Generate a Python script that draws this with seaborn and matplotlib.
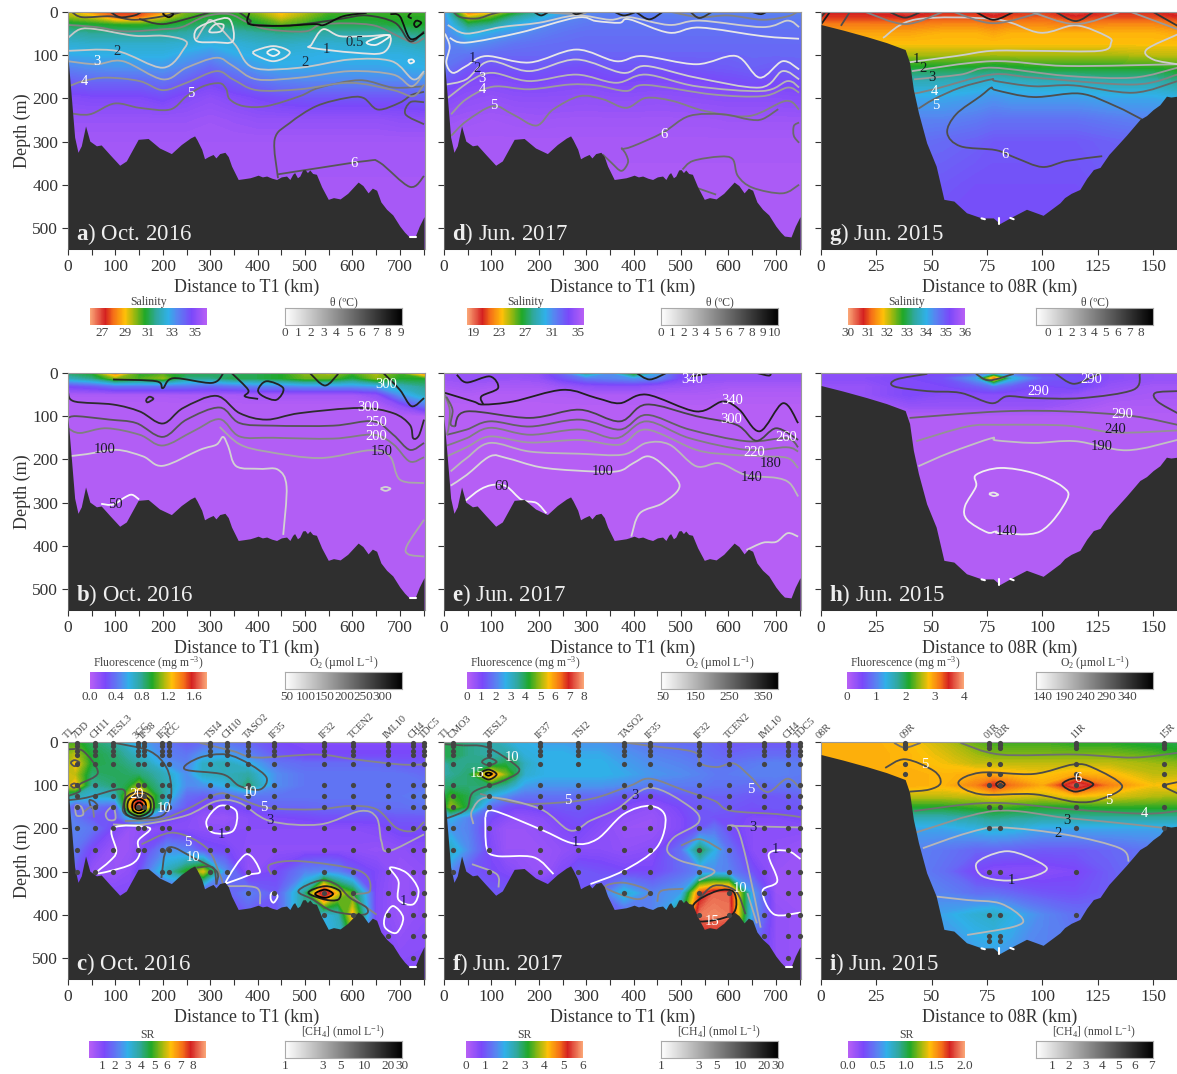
import numpy as np
import matplotlib
matplotlib.use('Agg')
import matplotlib.pyplot as plt
from matplotlib.colors import LinearSegmentedColormap, Normalize, LogNorm
from matplotlib.patches import PathPatch
from matplotlib.path import Path
import seaborn as sns

# grids the colour fields are read on
x_long = [0, 50, 100, 150, 200, 250, 300, 350, 400, 450, 500, 550, 600, 650, 700, 752]
z_long = [0, 12, 30, 50, 75, 100, 130, 160, 200, 250, 300, 400, 550]
x_sr = [0, 15, 50, 100, 130, 150, 170, 210, 250, 285, 330, 380, 440, 500, 540, 570, 600, 650, 700, 752]
z_sr = [0, 30, 50, 75, 100, 125, 150, 175, 200, 250, 300, 350, 400, 550]
x_short = [0, 20, 40, 55, 70, 78, 86, 100, 115, 130, 150, 161]

# seabed
bed_long_x = [0, 8, 14, 21, 28, 37, 46, 60, 70, 88, 109, 123, 148, 169, 193, 218, 239, 258, 267, 272, 282, 288, 296, 306, 312, 320, 331, 338, 345, 359,
              372, 384, 393, 401, 410, 419, 430, 440, 450, 461, 468, 474, 478, 484, 489, 495, 500, 505, 510, 516, 524, 535, 549, 560, 574, 590, 612,
              622, 633, 642, 651, 660, 672, 685, 700, 710, 718, 732, 741, 751]
bed_long_z = [105, 210, 290, 325, 310, 264, 299, 310, 308, 330, 355, 345, 295, 293, 315, 328, 307, 292, 287, 296, 318, 340, 335, 330, 338, 328, 325, 335, 357, 388,
              386, 384, 381, 378, 382, 380, 385, 388, 382, 380, 388, 376, 372, 384, 380, 366, 365, 372, 366, 374, 376, 405, 434, 430, 433, 420, 394,
              402, 419, 408, 413, 440, 457, 470, 496, 510, 519, 521, 496, 474]
bed_short_x = [0, 10, 20.6, 29.6, 38, 40, 41.7, 44, 47.7, 52, 55.5, 60, 65.7, 72.5, 77.8, 80.8, 86.8, 92.8, 100.3, 107.9, 110, 113, 116.9, 120, 123, 126, 130, 133.4, 138, 144, 147, 150, 153, 156, 158, 161]
bed_short_z = [29, 42, 57, 71, 87, 117, 179, 233, 303, 357, 434, 438, 465, 477, 477, 490, 473, 457, 471, 442, 430, 420, 411, 385, 365, 360, 330, 311, 285, 249, 240, 226, 215, 195, 197, 195]
# small unfilled gaps at the very bottom of the sections
gaps_long = [[(722, 521), (735, 521)]]
gaps_short = [[(72.5, 478), (74, 480)], [(80.5, 478), (80.5, 491)], [(85.5, 477), (87, 480)]]

# salinity
sal_a = [[29.3, 28.3, 27.4, 27.4, 28.3, 30, 30.5, 30.5, 29.7, 28.8, 29.5, 30.3, 30.5, 30.5, 30.5, 30.5],
         [29.8, 29.3, 27.9, 27.9, 29.3, 30.3, 30.8, 30.8, 30.2, 29.2, 29.9, 30.6, 30.6, 30.6, 30.6, 30.6],
         [31, 30.8, 30.6, 30.5, 30.7, 31, 31.4, 31.2, 30.8, 30.2, 30.5, 31, 31, 31, 30.8, 30.7],
         [31.8, 31.6, 31.6, 31.6, 31.6, 31.8, 32.1, 31.9, 31.7, 31.5, 31.6, 31.8, 31.8, 31.8, 31.6, 31.3],
         [32.4, 32.3, 32.3, 32.3, 32.3, 32.4, 32.6, 32.5, 32.3, 32.2, 32.3, 32.4, 32.3, 32.3, 32.2, 32],
         [32.8, 32.7, 32.7, 32.6, 32.6, 32.9, 33.2, 32.8, 32.6, 32.5, 32.6, 32.7, 32.6, 32.6, 32.6, 32.4],
         [33.5, 33.3, 33.2, 33.2, 33.1, 33.5, 34, 33.5, 33, 32.8, 32.8, 32.9, 32.9, 32.9, 32.8, 32.7],
         [34.2, 34, 34, 34, 33.8, 34.2, 34.6, 34.2, 33.8, 33.5, 33.4, 33.4, 33.4, 33.4, 33.4, 33.2],
         [34.9, 34.8, 34.8, 34.8, 34.6, 34.9, 35.1, 34.9, 34.7, 34.5, 34.4, 34.4, 34.4, 34.4, 34.4, 34.2],
         [35.3, 35.3, 35.3, 35.3, 35.3, 35.3, 35.4, 35.3, 35.2, 35.2, 35.2, 35.2, 35.2, 35.2, 35.1, 35.1],
         [35.5] * 16, [35.6] * 16, [35.6] * 16]
sal_d = [[31, 21, 23, 26, 28, 30, 31.5, 31.5, 31.5, 31.5, 31.5, 31, 31.5, 31.5, 31.5, 31.5],
         [31, 24, 25.5, 28, 29.5, 31, 31.5, 31.7, 31.7, 31.7, 31.7, 31.5, 31.7, 31.7, 31.7, 31.7],
         [31.3, 27.3, 28, 29.8, 31, 31.6, 31.9, 32, 32, 32, 32, 32, 32, 32, 32, 32],
         [31.5, 29.5, 30.3, 31, 31.6, 32, 32.2, 32.2, 32.2, 32.2, 32.2, 32.2, 32.2, 32.2, 32.2, 32.2],
         [31.6, 31, 31.5, 32, 32.2, 32.3, 32.4, 32.4, 32.4, 32.4, 32.4, 32.4, 32.4, 32.4, 32.4, 32.4],
         [31.8, 32, 32.4, 32.5, 32.5, 32.5, 32.6, 32.6, 32.6, 32.6, 32.6, 32.6, 32.6, 32.5, 32.5, 32.5],
         [32, 33, 33.3, 33.1, 33, 33.3, 33.4, 33.1, 33.1, 33.2, 33.2, 33, 32.9, 32.7, 32.9, 32.7],
         [32.8, 33.8, 34, 33.8, 33.6, 33.9, 34, 33.7, 33.7, 33.8, 33.8, 33.7, 33.5, 33.3, 33.5, 33.3],
         [34, 34.4, 34.6, 34.4, 34.4, 34.4, 34.5, 34.4, 34.4, 34.5, 34.4, 34.3, 34.2, 34.2, 34.2, 34.1],
         [34.8, 35, 35.1, 35, 34.9, 35, 35, 35, 35, 35, 35, 35, 34.9, 34.9, 34.9, 34.9],
         [35.2, 35.3, 35.3, 35.3, 35.3, 35.3, 35.3, 35.3, 35.3, 35.3, 35.3, 35.3, 35.3, 35.3, 35.3, 35.3],
         [35.5] * 16, [35.5] * 16]
sal_g = [[30.7, 30.7, 30.5, 30.8, 30.8, 30.5, 30.8, 30.9, 30.5, 30.8, 30.8, 30.6],
         [30.9, 30.9, 30.8, 31.0, 31.0, 30.8, 31.0, 31.1, 30.8, 31.0, 31.0, 30.8],
         [31.3, 31.3, 31.3, 31.4, 31.4, 31.3, 31.4, 31.4, 31.3, 31.4, 31.4, 31.3],
         [31.6, 31.6, 31.6, 31.7, 31.7, 31.6, 31.7, 31.7, 31.7, 31.7, 31.7, 31.6],
         [31.8, 31.8, 31.8, 31.8, 31.8, 31.8, 31.8, 31.8, 31.8, 31.8, 31.8, 31.8],
         [32.2, 32.2, 32.2, 32.2, 32.2, 32.2, 32.2, 32.2, 32.2, 32.2, 32.1, 32.1],
         [32.9, 32.9, 32.9, 32.9, 32.9, 33.0, 32.9, 32.8, 32.8, 32.8, 32.8, 32.7],
         [33.6, 33.6, 33.6, 33.6, 33.7, 33.8, 33.7, 33.6, 33.6, 33.5, 33.5, 33.3],
         [34.1, 34.1, 34.1, 34.1, 34.2, 34.3, 34.2, 34.2, 34.2, 34.1, 34.1, 34.0],
         [34.5, 34.5, 34.5, 34.5, 34.6, 34.7, 34.7, 34.7, 34.7, 34.6, 34.5, 34.5],
         [34.7, 34.7, 34.7, 34.8, 34.9, 35, 35, 35, 35, 34.9, 34.8, 34.8],
         [35, 35, 35, 35, 35.1, 35.1, 35.1, 35.1, 35.1, 35, 35, 35],
         [35.2] * 12]

# fluorescence
fluo_b = [[.85, .95, 1.4, .95, 1.0, .9, .9, .85, .9, .95, 1.1, 1.15, 1.0, 1.15, 1.0, 1.4],
          [.7, .8, 1.1, 1.0, 1.1, .8, .8, .9, .9, .95, 1.05, 1.05, .9, 1.1, .95, .95],
          [.25, .3, .4, .4, .4, .4, .35, .4, .45, .45, .5, .5, .5, .55, .7, .8],
          [.05, .05, .05, .05, .05, .06, .06, .06, .08, .08, .08, .08, .08, .15, .5, .7],
          [.02, .02, .02, .02, .02, .02, .02, .02, .02, .02, .02, .02, .02, .03, .15, .4],
          [.02] * 16, [.02] * 16, [.02] * 16, [.02] * 16, [.02] * 16, [.02] * 16, [.02] * 16, [.02] * 16]
fluo_e = [[.5, .6, .6, .6, .7, 1.5, 3.5, 2.2, 4.5, 2.5, 1, .7, .6, .6, .6, .6],
          [.5, .6, .6, .5, .6, 1.2, 1.8, 2, 2.2, 2, 1, .6, .6, .6, .6, .6],
          [.3, .4, .3, .3, .3, .5, .7, .8, .8, .6, .5, .4, .3, .3, .3, .3],
          [.1, .15, .1, .1, .1, .15, .2, .2, .2, .2, .2, .2, .15, .15, .15, .15],
          [.05] * 16, [.05] * 16, [.05] * 16, [.05] * 16, [.05] * 16, [.05] * 16, [.05] * 16, [.05] * 16, [.05] * 16]
fluo_h = [[.4, .4, .4, .5, .7, 1.1, .8, .5, .5, .4, .3, .3],
          [.4, .4, .5, .6, 1.2, 3.1, 1.4, .7, .6, .4, .3, .3],
          [.3, .3, .5, .5, .7, .9, .7, .5, .6, .3, .2, .2],
          [.3, .3, .5, .4, .4, .4, .4, .4, .3, .2, .15, .15],
          [.1, .1, .3, .3, .3, .3, .3, .3, .2, .1, .1, .1],
          [.05] * 12, [.05] * 12, [.05] * 12, [.05] * 12, [.05] * 12, [.05] * 12, [.05] * 12, [.05] * 12]

# stable ratio
sr_c = [[5, 5, 4.3, 3.8, 3, 2.8, 2.5, 2, 1.5, 1.8, 2, 1.7, 1.2, 1, 1, 1, 1, 1, 1, 1],
        [5.5, 5.8, 4.6, 4.2, 3.7, 3.3, 3, 2.2, 2, 2.6, 2.8, 2.3, 1.5, 1.2, 1.2, 1.2, 1.2, 1.2, 1.2, 1.2],
        [5.5, 6.3, 4.6, 4.3, 4, 3.8, 3.5, 2.5, 2.2, 3.4, 3.6, 3, 2, 1.8, 1.8, 1.8, 1.8, 1.8, 1.5, 1.5],
        [6, 5.8, 4.2, 4.4, 4.3, 4.2, 4, 3.4, 2.4, 3.4, 3.5, 3.8, 2.4, 2, 2, 2, 2, 2, 2, 1.8],
        [6, 6.4, 3.8, 4.2, 4.6, 5.5, 4.4, 3.6, 2.4, 2.5, 3, 4.2, 2.4, 2, 2, 2, 2, 2, 2, 2],
        [4, 3.6, 3.2, 3.5, 6, 7.5, 5.5, 3.4, 1.8, 1.6, 1.8, 2, 2, 2, 2, 2, 2, 2, 2, 2.2],
        [2, 1.4, 2, 1.5, 6.5, 8.6, 6, 2.5, 1.5, 1, 1, 1.3, 1.7, 1.7, 1.8, 1.8, 1.8, 1.9, 1.9, 2],
        [2.5, 2, 1.5, 1.4, 3, 4, 2.6, 1.3, 1, .7, .6, .9, 1.1, 1.2, 1.3, 1.3, 1.3, 1.3, 1.5, 1.5],
        [2, 2.3, 2, 1, .6, .7, .8, .9, .9, .8, .8, .9, .9, .9, .9, .9, .9, 1, 1.3, 1.3],
        [2.2, 2, 1.1, .5, .6, .9, 1.4, 2.5, 2.2, 1.4, 1.2, .8, .8, .8, .8, .8, .8, .7, .8, .9],
        [3, 1.5, .7, .6, .8, 1.3, 2.2, 3.6, 4.8, 6, 2.5, .7, 1.2, 2.2, 2.4, 2.2, 1.5, 1.1, .6, .8],
        [1, 1, 1, 1, 1, 1, 1, 1, 1, 1, 1.5, 2.2, 1.5, 4, 8.6, 6, 5, 1, .6, .8],
        [1, 1, 1, 1, 1, 1, 1, 1, 1, 1, 1, 1.5, 1.5, 4, 3, 3.5, 6.4, 1, .6, .8],
        [1, 1, 1, 1, 1, 1, 1, 1, 1, 1, 1, 1, 1, 3, 3, 3, 3, 1, 1, 1]]
sr_f = [[3, 3, 2.7, 2.5, 2.2, 2, 2, 1.8, 1.8, 1.7, 1.7, 1.5, 1.3, 1.2, 1.2, 1.1, 1, 1, 1, 1],
        [3, 3, 2.7, 2.5, 2.6, 2.4, 2.1, 2, 2, 1.9, 1.9, 1.7, 1.5, 1.4, 1.3, 1.2, 1.1, 1.2, 1.2, 1.2],
        [2.5, 2.7, 2.7, 2.7, 3, 2.9, 2.3, 2, 2, 2, 2, 1.8, 1.6, 1.5, 1.4, 1.3, 1.3, 1.4, 1.5, 1.4],
        [2.5, 2.6, 2.8, 4.6, 3.6, 3, 2.2, 2, 2, 2, 2, 1.9, 1.7, 1.6, 1.5, 1.4, 1.4, 1.5, 1.5, 1.4],
        [2.8, 2.8, 2.8, 2.9, 2.6, 2.2, 1.8, 1.7, 1.7, 1.7, 1.7, 1.6, 1.4, 1.4, 1.4, 1.3, 1.3, 1.2, 1.3, 1.4],
        [3, 3.3, 3, 2, 1.6, 1.4, 1.3, 1.3, 1.3, 1.2, 1.2, 1, .8, 1, 1.1, 1.1, 1.1, 1, 1, 1.1],
        [3, 3.7, 3, 1.2, .9, .8, .8, .9, 1, 1, .9, .7, .5, .8, 1, 1.1, 1, .9, 1, 1],
        [1.5, 2, 1.5, .8, .6, .5, .5, .6, .8, .9, .7, .5, .4, .7, 1, .9, .9, .7, .7, .8],
        [1.5, 1.7, 1.5, .6, .4, .4, .4, .5, .7, .8, .6, .4, .4, .7, 1, 1.3, .9, .6, .6, .6],
        [2, 2.3, 1.6, .7, .4, .4, .4, .4, .5, .6, .6, .5, .6, 1.3, 3, 2, 1.3, .6, .5, .4],
        [1.2, 1.5, 1, .8, .7, .6, .5, .4, .7, 1, .9, .8, .8, 1.2, 1.5, 1.6, 1.5, .9, .4, .4],
        [1, 1, 1, 1, 1, 1, 1, 1, 1, 1, 1.2, 2.2, 1.5, 1.8, 5.0, 5.6, 5.6, 1.8, .4, .4],
        [1, 1, 1, 1, 1, 1, 1, 1, 1, 1, 1, 1, 1.5, 3, 5.7, 5.8, 5.7, 1.8, .5, .4],
        [1, 1, 1, 1, 1, 1, 1, 1, 1, 1, 1, 1, 1, 3, 4, 4, 4, 1, .5, .4]]
sr_i = [[1.45, 1.45, 1.4, 1.3, 1.15, 1.1, 1.1, 1.1, 1.05, 1.05, 1.0, 1.0],
        [1.45, 1.45, 1.42, 1.35, 1.25, 1.2, 1.2, 1.2, 1.2, 1.2, 1.15, 1.1],
        [1.45, 1.45, 1.42, 1.38, 1.3, 1.3, 1.3, 1.3, 1.3, 1.3, 1.25, 1.22],
        [1.45, 1.45, 1.45, 1.42, 1.45, 1.45, 1.42, 1.38, 1.45, 1.42, 1.3, 1.3],
        [1.42, 1.42, 1.45, 1.42, 1.55, 1.72, 1.58, 1.45, 1.85, 1.55, 1.38, 1.42],
        [1.3, 1.3, 1.3, 1.3, 1.32, 1.38, 1.35, 1.32, 1.4, 1.35, 1.28, 1.25],
        [1.05, 1.05, 1.05, 1.05, 1.1, 1.12, 1.1, 1.05, 1.05, 1.08, 1.08, 1.08],
        [.8, .8, .8, .8, .85, .9, .87, .85, .85, .85, .85, .85],
        [.62, .62, .62, .62, .68, .72, .7, .62, .62, .62, .62, .62],
        [.5, .5, .5, .45, .38, .38, .36, .34, .34, .38, .45, .5],
        [.5, .5, .5, .42, .25, .2, .2, .2, .24, .35, .45, .5],
        [.5, .5, .5, .5, .42, .42, .38, .32, .3, .35, .45, .5],
        [.6, .6, .6, .62, .72, .76, .68, .52, .42, .4, .45, .5],
        [.5] * 12]

# isolines as (level, [(distance, depth), ...])
iso_a = [(5, [(0, 234), (46, 237), (98, 212), (151, 222), (215, 226), (250, 195), (285, 172), (320, 165), (334, 179), (341, 202), (370, 218), (419, 218), (489, 195), (531, 175), (616, 158), (686, 175), (751, 172)]),
         (6, [(443, 385), (436, 295), (468, 257), (524, 218), (588, 199), (623, 199), (654, 226), (700, 210), (725, 192), (751, 185)]),
         (6, [(751, 209), (722, 209), (712, 237), (751, 260)]),
         (6, [(443, 376), (531, 361), (630, 345), (658, 349), (721, 405), (751, 380)]),
         (4, [(0, 173), (32, 160), (81, 152), (151, 160), (200, 181), (250, 164), (313, 137), (348, 156), (398, 181), (489, 179), (595, 164), (686, 181), (728, 195), (751, 168)]),
         (3, [(0, 114), (60, 121), (116, 114), (200, 156), (250, 129), (313, 106), (348, 125), (398, 156), (489, 152), (595, 137), (686, 145), (725, 172), (751, 141)]),
         (2, [(0, 90), (102, 90), (200, 129), (246, 83), (245, 65), (200, 55), (140, 55), (60, 40), (25, 40), (0, 60)]),
         (2, [(271, 63), (290, 30), (306, 21), (352, 75), (391, 129), (489, 129), (595, 110), (683, 114), (728, 156), (751, 137)]),
         (1, [(271, 67), (271, 40), (306, 21), (341, 17), (348, 67), (310, 70), (271, 67)]),
         (1, [(300, 40), (312, 28), (328, 30), (322, 45), (300, 47), (300, 40)]),
         (1, [(390, 94), (410, 84), (433, 79), (455, 84), (468, 94), (455, 107), (433, 114), (410, 107), (390, 94)]),
         (.5, [(420, 94), (433, 86), (446, 94), (433, 102), (420, 94)]),
         (1, [(514, 75), (538, 40), (574, 56), (630, 56), (679, 56), (665, 94), (602, 94), (514, 83), (514, 75)]),
         (.5, [(630, 70), (665, 55), (679, 56), (650, 76), (630, 70)]),
         (.5, [(718, 112), (726, 110), (730, 115), (722, 119), (718, 112)]),
         (6.5, [(8, 0), (30, 12), (90, 10), (140, 18), (200, 10), (240, 0)]),
         (7.5, [(90, 0), (110, 12), (140, 8), (155, 0)]),
         (8.5, [(200, 3), (212, 12), (222, 5), (212, 0), (200, 3)]),
         (7, [(150, 16), (200, 28), (270, 10), (300, 0)]),
         (4.5, [(0, 30), (60, 35), (120, 45), (200, 40), (240, 35), (290, 10), (340, 5), (380, 25), (420, 40), (500, 45), (540, 28), (640, 30), (700, 58), (730, 72), (751, 60)]),
         (7, [(360, 0), (385, 20), (383, 28), (450, 32), (520, 25), (580, 15), (630, 8), (690, 25), (722, 68), (751, 45)]),
         (8.5, [(383, 0), (383, 28), (450, 32), (520, 28), (540, 30), (580, 10), (630, 2)]),
         (8.5, [(680, 5), (700, 10), (722, 62), (751, 48)]),
         (8.5, [(725, 0), (718, 10), (725, 15)]),
         (8.5, [(735, 20), (745, 25), (735, 35), (730, 28), (735, 20)])]
lab_a = [(103, 91, '2', '#1c2a3a'), (60, 115, '3', 'w'), (34, 160, '4', 'w'), (258, 188, '5', 'w'), (604, 70, '0.5', '#1c2a3a'),
         (545, 86, '1', '#1c2a3a'), (500, 116, '2', '#1c2a3a'), (603, 350, '6', 'w')]

iso_d = [(5, [(15, 287), (47, 253), (103, 218), (145, 237), (195, 263), (230, 226), (286, 195), (335, 202), (384, 222), (426, 199), (482, 206), (553, 230), (644, 241), (721, 206), (749, 226)]),
         (6, [(374, 318), (398, 311), (461, 280), (517, 241), (588, 237), (644, 249), (672, 248), (705, 225)]),
         (6, [(749, 256), (738, 264), (738, 287), (749, 303)]),
         (6, [(374, 314), (384, 330), (388, 349), (374, 368), (353, 349), (335, 330)]),
         (6, [(503, 365), (525, 345), (581, 335), (609, 341), (620, 380), (651, 407), (714, 420), (749, 400)]),
         (6, [(532, 407), (574, 423)]),
         (4, [(15, 237), (47, 202), (103, 173), (180, 179), (265, 168), (321, 170), (384, 183), (426, 169), (567, 191), (672, 195), (725, 175), (749, 187)]),
         (3, [(8, 199), (61, 156), (103, 141), (180, 160), (279, 145), (363, 164), (426, 145), (532, 172), (672, 183), (725, 160), (749, 175)]),
         (2, [(5, 168), (47, 156), (96, 114), (180, 137), (279, 110), (377, 141), (426, 125), (532, 152), (666, 175), (714, 137), (749, 156)]),
         (1, [(2, 50), (12, 80), (5, 118), (19, 141), (47, 125), (89, 102), (180, 117), (279, 87), (363, 114), (419, 102), (532, 121), (616, 102), (666, 152), (714, 114), (749, 133)]),
         (1, [(12, 60), (47, 71), (159, 48), (279, 13), (321, 21), (370, 25), (391, 17), (475, 48), (539, 36), (672, 56), (749, 62)]),
         (2, [(8, 30), (47, 50), (120, 35), (200, 25), (279, 8), (350, 18), (391, 12), (475, 30), (539, 20), (672, 35), (725, 20), (749, 35)]),
         (4, [(200, 0), (279, 5), (300, 2)]),
         (5, [(480, 0), (539, 12), (600, 8), (672, 18), (725, 10), (745, 0)]),
         (7, [(20, 0), (35, 12), (70, 15), (100, 5), (120, 0)]),
         (9, [(405, 0), (433, 17), (461, 0)]),
         (9, [(360, 0), (380, 8), (405, 0)]),
         (9, [(270, 0), (279, 5), (295, 0)]),
         (9, [(190, 0), (205, 8), (220, 0)]),
         (8, [(520, 0), (539, 14), (565, 0)]),
         (9, [(650, 0), (668, 5), (680, 0)])]
lab_d = [(59, 108, '1', '#1c1c50'), (70, 131, '2', '#1c1c50'), (80, 153, '3', 'w'), (82, 180, '4', 'w'), (105, 217, '5', 'w'), (465, 283, '6', 'w')]

iso_g = [(6, [(127, 334), (111, 345), (100, 359), (88, 338), (79, 320), (63, 311), (57, 280), (61, 237), (72, 195), (77, 175), (79, 181), (96, 197), (117, 189), (133, 218), (145, 249)]),
         (5, [(44, 224), (51, 202), (63, 175), (77, 156), (79, 160), (96, 172), (114, 170), (141, 187), (161, 160)]),
         (4, [(42, 189), (51, 179), (77, 145), (96, 152), (141, 168), (161, 145)]),
         (3, [(42, 156), (63, 145), (77, 129), (111, 148), (141, 152), (161, 129)]),
         (2, [(41, 137), (77, 114), (111, 125), (161, 121)]),
         (1, [(39, 117), (61, 102), (77, 90), (97, 90), (126, 90), (131, 71), (129, 56), (115, 31), (99, 48), (79, 17), (43, 17), (28, 60)]),
         (1, [(161, 52), (147, 87), (150, 110), (161, 121)]),
         (8, [(0, 29), (4, 0)]),
         (7, [(0, 12), (2, 0)]),
         (6, [(9, 32), (13, 0)]),
         (7, [(31, 0), (38, 13), (45, 0)]),
         (4, [(20, 0), (38, 28), (55, 0)]),
         (8, [(70, 0), (78, 18), (87, 0)]),
         (4, [(60, 0), (78, 26), (100, 0)]),
         (7, [(106, 0), (115, 21), (123, 0)]),
         (3, [(95, 0), (115, 28), (135, 0)]),
         (7, [(150, 0), (161, 32)]),
         (3, [(140, 0), (161, 40)])]
lab_g = [(43, 110, '1', '#102020'), (46, 130, '2', '#102020'), (50, 152, '3', '#102020'), (51, 184, '4', 'w'), (52, 216, '5', 'w'), (83, 330, '6', 'w')]

iso_b = [(100, [(0, 193), (39, 188), (102, 178), (158, 193), (200, 215), (278, 178), (313, 166), (327, 148), (338, 170), (355, 216), (405, 222), (443, 224), (461, 263), (454, 375)]),
         (50, [(70, 303), (95, 305), (120, 288), (135, 282), (150, 293)]),
         (150, [(320, 125), (362, 165), (419, 182), (531, 197), (637, 179), (679, 193), (700, 247), (751, 255)]),
         (200, [(0, 128), (25, 139), (81, 128), (151, 143), (200, 168), (264, 135), (320, 107), (362, 147), (433, 150), (559, 152), (644, 143), (686, 165), (721, 205), (751, 195)]),
         (250, [(0, 104), (18, 100), (88, 108), (144, 116), (200, 148), (250, 108), (320, 80), (362, 116), (433, 122), (559, 122), (644, 112), (686, 143), (721, 178), (751, 162)]),
         (300, [(0, 46), (14, 66), (95, 73), (151, 89), (200, 117), (243, 81), (313, 53), (362, 93), (419, 108), (489, 93), (616, 81), (686, 93), (721, 120), (728, 151), (740, 145), (751, 108)]),
         (310, [(95, 15), (186, 19), (200, 35), (222, 12), (303, 23), (327, 2)]),
         (310, [(345, 0), (380, 39), (373, 54), (401, 60)]),
         (310, [(401, 39), (419, 19), (454, 35), (440, 62), (412, 54), (401, 39)]),
         (310, [(510, 0), (542, 29), (570, 2)]),
         (310, [(665, 0), (700, 39), (725, 77), (751, 58)]),
         (300, [(165, 62), (172, 55), (180, 60), (168, 68), (165, 62)]),
         (100, [(660, 268), (670, 264), (680, 268), (670, 273), (660, 268)]),
         (150, [(751, 340), (715, 400), (718, 420), (751, 425)])]
lab_b = [(77, 178, '100', '#1c1c28'), (100, 305, '50', '#1c1c28'), (672, 26, '300', 'w'), (633, 81, '300', 'w'), (650, 115, '250', 'w'), (650, 146, '200', 'w'), (662, 181, '150', '#1c1c28')]

iso_e = [(60, [(44, 297), (76, 270), (104, 259), (132, 263), (164, 294), (195, 301), (216, 325)]),
         (100, [(14, 261), (48, 236), (97, 193), (132, 197), (202, 218), (279, 226), (364, 228), (399, 209), (430, 193), (462, 213), (497, 261), (462, 301), (413, 325), (395, 379)]),
         (100, [(638, 410), (673, 393), (701, 391), (725, 371), (747, 379)]),
         (140, [(14, 228), (48, 197), (97, 162), (181, 182), (286, 187), (378, 189), (427, 162), (476, 166), (532, 216), (581, 209), (636, 236), (701, 243), (729, 255), (747, 286)]),
         (180, [(6, 193), (48, 172), (97, 147), (181, 161), (286, 155), (371, 166), (427, 131), (532, 178), (603, 189), (673, 193), (725, 197), (747, 220)]),
         (220, [(6, 168), (48, 151), (97, 127), (181, 143), (286, 131), (364, 151), (427, 112), (518, 151), (638, 178), (722, 172), (747, 182)]),
         (260, [(6, 143), (48, 131), (97, 112), (181, 124), (286, 108), (371, 131), (427, 97), (518, 131), (638, 158), (722, 151), (747, 172)]),
         (300, [(23, 124), (48, 89), (181, 104), (286, 85), (371, 112), (427, 73), (532, 100), (617, 120), (659, 157), (701, 128), (747, 155)]),
         (350, [(2, 46), (62, 66), (83, 73), (146, 66), (251, 39), (322, 58), (371, 70), (427, 50), (532, 89), (588, 66), (623, 85), (666, 135), (715, 70), (747, 116)]),
         (350, [(27, 4), (48, 22), (97, 8), (114, 35), (79, 54), (83, 73)]),
         (350, [(406, 0), (434, 15), (469, 0)]),
         (350, [(520, 8), (555, 2)]),
         (350, [(660, 0), (685, 6), (690, 0)]),
         (220, [(2, 50), (12, 85), (10, 125), (6, 143)]),
         (260, [(5, 55), (18, 85), (14, 118), (23, 124)])]
lab_e = [(524, 14, '340', 'w'), (607, 63, '340', 'w'), (605, 107, '300', 'w'), (722, 150, '260', 'w'), (655, 184, '220', 'w'), (690, 210, '180', '#1c1c28'), (650, 243, '140', '#1c1c28'),
         (335, 228, '100', '#1c1c28'), (122, 263, '60', '#1c1c28')]

iso_h = [(140, [(79, 367), (75, 369), (66, 340), (65, 309), (70, 263), (70, 236), (81, 220), (96, 232), (109, 263), (111, 294), (99, 367), (81, 371), (79, 367)]),
         (150, [(76, 280), (78, 277), (80, 282), (78, 285), (76, 280)]),
         (190, [(44, 216), (58, 185), (77, 151), (79, 156), (96, 162), (115, 158), (138, 179), (161, 155)]),
         (240, [(43, 158), (66, 124), (81, 120), (111, 122), (133, 138), (161, 133)]),
         (290, [(40, 104), (81, 89), (111, 89), (141, 100), (161, 120)]),
         (320, [(48, 2), (34, 15), (33, 31), (48, 42), (63, 46), (77, 70), (84, 54), (96, 58), (118, 58), (141, 39), (144, 2)]),
         (320, [(70, 2), (76, 17), (87, 2)]),
         (320, [(106, 2), (114, 25), (123, 8), (126, 2)]),
         (320, [(161, 42), (151, 46), (152, 66), (161, 93)])]
lab_h = [(122, 15, '290', 'w'), (98, 43, '290', 'w'), (136, 97, '290', 'w'), (133, 132, '240', '#1c1c28'), (127, 170, '190', '#1c1c28'), (84, 367, '140', '#1c1c28')]

iso_c = [(5, [(120, 183), (194, 179), (250, 156), (313, 121), (348, 125), (419, 152), (524, 156), (595, 148), (651, 156), (693, 199), (728, 206), (751, 185)]),
         (3, [(95, 191), (158, 191), (250, 170), (313, 137), (362, 141), (426, 183), (531, 191), (616, 160), (651, 175), (661, 230), (676, 253), (751, 214)]),
         (5, [(278, 2), (348, 21), (398, 36), (524, 29), (602, 40), (700, 52), (751, 52)]),
         (10, [(0, 135), (39, 129), (116, 110), (116, 160), (140, 175), (186, 175), (208, 160), (218, 114), (208, 60), (172, 21), (98, 2)]),
         (10, [(0, 17), (32, 21), (63, 71), (25, 98), (25, 114), (0, 125)]),
         (10, [(246, 63), (278, 36), (334, 29), (384, 52), (419, 83), (405, 110), (362, 102), (327, 75), (246, 63)]),
         (10, [(45, 135), (55, 138), (62, 148), (50, 152), (45, 135)]),
         (15, [(122, 130), (150, 115), (178, 130), (178, 165), (150, 178), (122, 165), (122, 130)]),
         (20, [(128, 135), (150, 122), (172, 135), (172, 160), (150, 172), (128, 160), (128, 135)]),
         (30, [(137, 140), (150, 132), (163, 140), (163, 158), (150, 165), (137, 158), (137, 140)]),
         (30, [(143, 145), (150, 140), (157, 145), (157, 155), (150, 158), (143, 155), (143, 145)]),
         (10, [(6, 48), (14, 42), (24, 48), (14, 56), (6, 48)]),
         (10, [(6, 100), (14, 96), (20, 102), (12, 106), (6, 100)]),
         (1, [(292, 183), (320, 148), (355, 160), (348, 206), (306, 210), (292, 183)]),
         (1, [(60, 303), (88, 276), (102, 253), (95, 199), (172, 199), (148, 229), (151, 260), (134, 283), (88, 299), (60, 303)]),
         (1, [(334, 322), (376, 260), (405, 299), (384, 307), (348, 322), (334, 322)]),
         (1, [(679, 291), (714, 303), (739, 342), (728, 376), (697, 365), (697, 322), (679, 291)]),
         (1, [(669, 403), (686, 380), (707, 407), (693, 442), (669, 430), (669, 403)]),
         (1, [(428, 352), (435, 348), (442, 358), (434, 372), (428, 365), (428, 352)]),
         (5, [(155, 237), (222, 210), (292, 245), (320, 307), (327, 330)]),
         (10, [(197, 315), (211, 245), (264, 268), (313, 299), (313, 330)]),
         (10, [(271, 291), (306, 291), (313, 330)]),
         (3, [(331, 334), (398, 338), (405, 376)]),
         (5, [(429, 307), (426, 284), (489, 276), (616, 299), (637, 345), (602, 357), (651, 400)]),
         (10, [(486, 345), (531, 321), (566, 330), (595, 361), (630, 384), (623, 400), (559, 392), (517, 365), (486, 345)]),
         (20, [(507, 349), (542, 334), (573, 345), (570, 365), (542, 365), (507, 349)]),
         (30, [(521, 352), (542, 342), (559, 352), (542, 361), (521, 352)]),
         (5, [(30, 165), (50, 150), (55, 175)]),
         (3, [(16, 148), (28, 150), (32, 168), (18, 170), (16, 148)]),
         (3, [(80, 165), (95, 150), (100, 178), (85, 180), (80, 165)])]
lab_c = [(145, 122, '20', 'w'), (202, 155, '10', 'w'), (385, 117, '10', 'w'), (413, 152, '5', 'w'), (427, 183, '3', '#1c1c50'), (323, 215, '1', '#1c1c50'),
         (252, 233, '5', 'w'), (263, 268, '10', 'w'), (708, 370, '1', '#1c1c50')]

iso_f = [(10, [(41, 8), (90, 12), (147, 50), (157, 70), (118, 93), (62, 116), (48, 155), (13, 174), (0, 176)]),
         (10, [(0, 5), (41, 8)]),
         (10, [(80, 46), (94, 37), (111, 46), (94, 54), (80, 46)]),
         (20, [(76, 74), (94, 64), (111, 75), (94, 87), (76, 74)]),
         (30, [(87, 74), (94, 71), (101, 74), (94, 78), (87, 74)]),
         (5, [(76, 120), (147, 140), (203, 143), (309, 132), (393, 101), (435, 85), (507, 112), (570, 136), (604, 159), (703, 167), (752, 174)]),
         (5, [(372, 0), (428, 8), (527, 23), (541, 50), (576, 58), (612, 50), (647, 81), (682, 116), (724, 85), (752, 108)]),
         (3, [(62, 190), (59, 159), (94, 128), (203, 155), (266, 205), (309, 182), (365, 155), (435, 106), (520, 151), (537, 186), (485, 221), (471, 252), (499, 275), (570, 298), (537, 321)]),
         (3, [(59, 283), (111, 306), (115, 337)]),
         (3, [(598, 194), (619, 202), (640, 283), (668, 430)]),
         (3, [(598, 194), (752, 198)]),
         (1, [(87, 174), (104, 159), (203, 202), (273, 235), (323, 225), (379, 167), (435, 148), (467, 174), (449, 244), (379, 298), (309, 329)]),
         (1, [(87, 174), (90, 245), (111, 264), (189, 267), (231, 306)]),
         (1, [(752, 271), (724, 252), (685, 260), (703, 322), (672, 345), (696, 399), (752, 395)]),
         (10, [(535, 368), (569, 333), (615, 345), (636, 399)]),
         (20, [(527, 376), (576, 345), (612, 349), (608, 399), (534, 415), (527, 376)]),
         (5, [(340, 337), (379, 326), (432, 345), (407, 364), (340, 337)]),
         (5, [(450, 370), (458, 345), (505, 340)]),
         (5, [(500, 240), (540, 225), (585, 250)]),
         (3, [(640, 350), (660, 420)])]
lab_f = [(143, 37, '10', 'w'), (70, 74, '15', 'w'), (260, 135, '5', 'w'), (403, 125, '3', '#1c1c50'), (647, 110, '5', 'w'), (652, 197, '3', '#1c1c50'),
         (278, 232, '1', '#1c1c50'), (700, 250, '1', '#1c1c50'), (625, 340, '10', 'w'), (565, 415, '15', 'w')]

iso_i = [(6, [(109, 98), (115, 84), (123, 98), (115, 115), (109, 98)]),
         (6, [(79, 98), (81, 91), (83, 98), (81, 106), (79, 98)]),
         (5, [(62, 95), (72, 71), (96, 74), (114, 52), (123, 60), (136, 102), (126, 133), (115, 139), (96, 121), (72, 121), (62, 95)]),
         (5, [(29, 60), (38, 40), (51, 67), (54, 95), (49, 110), (40, 115)]),
         (5, [(161, 93), (155, 102), (161, 119)]),
         (4, [(42, 160), (77, 141), (115, 157), (146, 166), (161, 160)]),
         (4, [(33, 2), (38, 13), (45, 2)]),
         (4, [(63, 2), (81, 29), (115, 29), (141, 36), (161, 25)]),
         (3, [(42, 211), (78, 160), (111, 176), (141, 191), (161, 203)]),
         (2, [(46, 246), (66, 211), (81, 198), (111, 215), (135, 246), (139, 277)]),
         (1, [(70, 284), (75, 265), (84, 253), (93, 265), (102, 292), (96, 311), (84, 321), (73, 311), (70, 284)]),
         (2, [(52, 358), (66, 366), (81, 374), (91, 409), (87, 428), (66, 447)])]
lab_i = [(47, 52, '5', 'w'), (116, 85, '6', 'w'), (130, 135, '5', 'w'), (146, 166, '4', 'w'), (111, 183, '3', '#102020'), (107, 213, '2', '#102020'), (86, 320, '1', '#102020')]

# sampling stations
st_c_x = [0, 18, 58, 95, 147, 161, 198, 213, 300, 335, 380, 435, 540, 602, 675, 728, 751]
st_c_names = ['T1', '7DD', 'CH11', 'TESL3', '3CC', 'IF38', 'IF37', '1CC', 'TSI4', 'CH10', 'TASO2', 'IF35', 'IF32', 'TCEN2', 'IML10', 'CH4', 'TDC5']
st_f_x = [0, 20, 95, 203, 283, 380, 435, 538, 602, 675, 726, 750]
st_f_names = ['T1', 'CMO3', 'TESL3', 'IF37', 'TSI2', 'TASO2', 'IF35', 'IF32', 'TCEN2', 'IML10', 'CH4', 'TDC5']
st_z = [3, 10, 20, 30, 50, 100, 125, 150, 200, 250, 300, 350, 400, 450, 500]
st_i_x = [0, 38, 76, 81, 115, 155]
st_i_names = ['08R', '09R', '01R', '02R', '11R', '15R']
st_i_z = [3, 8, 15, 50, 75, 100, 150, 200, 300, 400, 450, 460]

# colour bar tick labels
ticks_sal_a = [27, 29, 31, 33, 35]
ticks_sal_d = [19, 23, 27, 31, 35]
ticks_sal_g = [30, 31, 32, 33, 34, 35, 36]
ticks_t_a = [0, 1, 2, 3, 4, 5, 6, 7, 8, 9]
ticks_t_d = [0, 1, 2, 3, 4, 5, 6, 7, 8, 9, 10]
ticks_t_g = [0, 1, 2, 3, 4, 5, 6, 7, 8]
ticks_fl_b = [0.0, 0.4, 0.8, 1.2, 1.6]
ticks_fl_e = [0, 1, 2, 3, 4, 5, 6, 7, 8]
ticks_fl_h = [0, 1, 2, 3, 4]
ticks_o2_b = [50, 100, 150, 200, 250, 300]
ticks_o2_e = [50, 150, 250, 350]
ticks_o2_h = [140, 190, 240, 290, 340]
ticks_sr_c = [1, 2, 3, 4, 5, 6, 7, 8]
ticks_sr_f = [0, 1, 2, 3, 4, 5, 6]
ticks_sr_i = [0.0, 0.5, 1.0, 1.5, 2.0]
ticks_ch4 = [1, 3, 5, 10, 20, 30]
ticks_ch4_i = [1, 2, 3, 4, 5, 6, 7]

W, H = 1177, 1074
sns.set_theme(style='ticks')
plt.rcParams['font.family'] = ['Liberation Serif', 'DejaVu Sans']
plt.rcParams['mathtext.fontset'] = 'custom'
plt.rcParams['mathtext.rm'] = 'Liberation Serif'
plt.rcParams['mathtext.it'] = 'Liberation Serif:italic'
plt.rcParams['mathtext.bf'] = 'Liberation Serif:bold'

rainbow = LinearSegmentedColormap.from_list('rb', [(0, '#b860f5'), (.13, '#7a48fa'), (.26, '#5588f0'), (.33, '#30b0e8'), (.43, '#30a8a0'),
                                                   (.53, '#20a828'), (.62, '#98b810'), (.70, '#ffc008'), (.80, '#f57018'), (.87, '#d42020'),
                                                   (1, '#fba878')])
rainbow_r = rainbow.reversed()
greys = plt.get_cmap('gray_r')
text_c = '#333333'
fig = plt.figure(figsize=(W / 100, H / 100), dpi=100)


def px_axes(x0, y0, x1, y1):
    return fig.add_axes([x0 / W, 1 - y1 / H, (x1 - x0) / W, (y1 - y0) / H])


def curve(pts):
    # curved path through the read points, only the drawing is rounded
    pts = np.array(pts, dtype=float)
    closed = len(pts) > 3 and (pts[0] == pts[-1]).all()
    if closed:
        pts = pts[:-1]
    n = len(pts)
    verts, codes = [pts[0]], [Path.MOVETO]
    for i in range(n if closed else n - 1):
        if closed:
            p0, p1, p2, p3 = pts[(i - 1) % n], pts[i], pts[(i + 1) % n], pts[(i + 2) % n]
        else:
            p0, p1, p2, p3 = pts[max(i - 1, 0)], pts[i], pts[i + 1], pts[min(i + 2, n - 1)]
        verts += [p1 + (p2 - p0) / 6, p2 - (p3 - p1) / 6, p2]
        codes += [Path.CURVE4] * 3
    return Path(verts, codes)


def panel(x0, y0, xs, zs, field, cmap, vmin, vmax, iso, labs, norm, bed_x, bed_z, gaps, xlim, xlab, letter, when, ylabel):
    ax = px_axes(x0, y0, x0 + 356.5, y0 + 237)
    ax.contourf(xs, zs, np.array(field), levels=np.linspace(vmin, vmax, 121), cmap=cmap, extend='both', zorder=1)
    for level, pts in iso:
        ax.add_patch(PathPatch(curve(pts), fill=False, edgecolor=greys(norm(level)), lw=1.3, zorder=2))
    ax.fill_between(bed_x, bed_z, 560, color='#2f2f2f', lw=0, zorder=3)
    for gap in gaps:
        gap = np.array(gap)
        sns.lineplot(x=gap[:, 0], y=gap[:, 1], sort=False, estimator=None, color='w', lw=1.5, ax=ax, zorder=3.5, legend=False)
    for lx, lz, s, c in labs:
        ax.text(lx, lz, s, color=c, fontsize=10.5, ha='center', va='center', zorder=5)
    ax.text(xlim * 0.022, 515, r'$\mathbf{%s}$) %s' % (letter, when), color='#eeeeee', fontsize=16.5, va='center', zorder=6)
    ax.set_xlim(0, xlim)
    ax.set_ylim(549, 0)
    if xlim > 500:
        ax.set_xticks(range(0, 751, 50))
        ax.set_xticklabels([str(v) if v % 100 == 0 else '' for v in range(0, 751, 50)])
    else:
        ax.set_xticks(range(0, 151, 25))
    ax.set_yticks(range(0, 501, 100))
    if not ylabel:
        ax.set_yticklabels([])
    ax.tick_params(labelsize=12.5, colors=text_c, length=4, width=.8, pad=3)
    ax.set_xlabel(xlab, fontsize=13, color=text_c, labelpad=3)
    ax.set_ylabel('Depth (m)' if ylabel else '', fontsize=13, color=text_c, labelpad=1)
    for sp in ax.spines.values():
        sp.set_color('#999999')
        sp.set_linewidth(.8)
    return ax


def bar(x0, y0, cmap, fracs, labels, title, grey=False):
    ax = px_axes(x0, y0, x0 + 117, y0 + 17)
    strip = np.linspace(0, 1, 256)[None, :]
    sns.heatmap(strip, cmap=cmap, vmin=0, vmax=1, cbar=False, xticklabels=False, yticklabels=False, ax=ax)
    ax.set_xticks([f * 256 for f in fracs])
    ax.set_xticklabels(labels)
    ax.tick_params(axis='x', length=0, pad=1.5, labelsize=9.5, colors='#444444', rotation=0)
    ax.set_title(title, fontsize=8.5, color='#444444', pad=0.5)
    if grey:
        for sp in ax.spines.values():
            sp.set_visible(True)
            sp.set_color('#aaaaaa')
            sp.set_linewidth(.8)


def stations(ax, xs, names, depths, bed_x, bed_z):
    for x, name in zip(xs, names):
        ax.text(x, -3, name, rotation=45, rotation_mode='anchor', ha='left', va='bottom', fontsize=7.5, color='#444444', clip_on=False)
        if x == 0:
            continue
        keep = [d for d in depths if d < np.interp(x, bed_x, bed_z)]
        sns.scatterplot(x=[x] * len(keep), y=keep, color='#444444', s=14, linewidth=0, ax=ax, zorder=4, legend=False, clip_on=False)


lab_t1 = 'Distance to T1 (km)'
lab_08r = 'Distance to 08R (km)'

# a, d, g
panel(68, 12, x_long, z_long, sal_a, rainbow_r, 26, 36, iso_a, lab_a, Normalize(0, 9.1), bed_long_x, bed_long_z, gaps_long, 752, lab_t1, 'a', 'Oct. 2016', True)
panel(444, 12, x_long, z_long, sal_d, rainbow_r, 18, 36, iso_d, lab_d, Normalize(0, 10.3), bed_long_x, bed_long_z, [], 752, lab_t1, 'd', 'Jun. 2017', False)
panel(821, 12, x_short, z_long, sal_g, rainbow_r, 30, 36, iso_g, lab_g, Normalize(-1, 9.1), bed_short_x, bed_short_z, gaps_short, 161, lab_08r, 'g', 'Jun. 2015', False)
# b, e, h
panel(68, 373, x_long, z_long, fluo_b, rainbow, 0, 1.8, iso_b, lab_b, Normalize(45, 353), bed_long_x, bed_long_z, gaps_long, 752, lab_t1, 'b', 'Oct. 2016', True)
panel(444, 373, x_long, z_long, fluo_e, rainbow, 0, 8, iso_e, lab_e, Normalize(45, 395), bed_long_x, bed_long_z, [], 752, lab_t1, 'e', 'Jun. 2017', False)
panel(821, 373, x_short, z_long, fluo_h, rainbow, 0, 4, iso_h, lab_h, Normalize(123, 400), bed_short_x, bed_short_z, gaps_short, 161, lab_08r, 'h', 'Jun. 2015', False)
# c, f, i
ch4_norm = LogNorm(1, 30)
ax_c = panel(68, 742, x_sr, z_sr, sr_c, rainbow, 0, 9, iso_c, lab_c, ch4_norm, bed_long_x, bed_long_z, gaps_long, 752, lab_t1, 'c', 'Oct. 2016', True)
ax_f = panel(444, 742, x_sr, z_sr, sr_f, rainbow, 0, 6, iso_f, lab_f, ch4_norm, bed_long_x, bed_long_z, gaps_long, 752, lab_t1, 'f', 'Jun. 2017', False)
ax_i = panel(821, 742, x_short, z_sr, sr_i, rainbow, 0, 2, iso_i, lab_i, Normalize(0, 7.1), bed_short_x, bed_short_z, gaps_short, 161, lab_08r, 'i', 'Jun. 2015', False)
stations(ax_c, st_c_x, st_c_names, st_z, bed_long_x, bed_long_z)
stations(ax_f, st_f_x, st_f_names, st_z, bed_long_x, bed_long_z)
stations(ax_i, st_i_x, st_i_names, st_i_z, bed_short_x, bed_short_z)

# colour bars
bar(90, 308, rainbow_r, [(v - 26) / 10 for v in ticks_sal_a], ticks_sal_a, 'Salinity')
bar(285, 308, 'gray_r', [v / 9.1 for v in ticks_t_a], ticks_t_a, 'θ (ºC)', True)
bar(467, 308, rainbow_r, [(v - 18) / 18 for v in ticks_sal_d], ticks_sal_d, 'Salinity')
bar(661, 308, 'gray_r', [v / 10.3 for v in ticks_t_d], ticks_t_d, 'θ (ºC)', True)
bar(848, 308, rainbow_r, [(v - 30) / 6 for v in ticks_sal_g], ticks_sal_g, 'Salinity')
bar(1036, 308, 'gray_r', [(v + 1.06) / 10.13 for v in ticks_t_g], ticks_t_g, 'θ (ºC)', True)

fl_title = 'Fluorescence (mg m$^{-3}$)'
o2_title = 'O$_2$ (µmol L$^{-1}$)'
bar(90, 672, rainbow, [v / 1.8 for v in ticks_fl_b], ticks_fl_b, fl_title)
bar(285, 672, 'gray_r', [(v - 45) / 308 for v in ticks_o2_b], ticks_o2_b, o2_title, True)
bar(467, 672, rainbow, [v / 8 for v in ticks_fl_e], ticks_fl_e, fl_title)
bar(661, 672, 'gray_r', [(v - 45) / 350 for v in ticks_o2_e], ticks_o2_e, o2_title, True)
bar(847, 672, rainbow, [v / 4 for v in ticks_fl_h], ticks_fl_h, fl_title)
bar(1036, 672, 'gray_r', [(v - 123) / 277 for v in ticks_o2_h], ticks_o2_h, o2_title, True)

ch4_title = '[CH$_4$] (nmol L$^{-1}$)'
bar(89, 1041, rainbow, [v / 9 for v in ticks_sr_c], ticks_sr_c, 'SR')
bar(285, 1041, 'gray_r', [np.log(v) / np.log(30) for v in ticks_ch4], ticks_ch4, ch4_title, True)
bar(466, 1041, rainbow, [v / 6 for v in ticks_sr_f], ticks_sr_f, 'SR')
bar(661, 1041, 'gray_r', [np.log(v) / np.log(30) for v in ticks_ch4], ticks_ch4, ch4_title, True)
bar(848, 1041, rainbow, [v / 2 for v in ticks_sr_i], ticks_sr_i, 'SR')
bar(1036, 1041, 'gray_r', [v / 7.1 for v in ticks_ch4_i], ticks_ch4_i, ch4_title, True)

fig.savefig('out.png', dpi=100)
